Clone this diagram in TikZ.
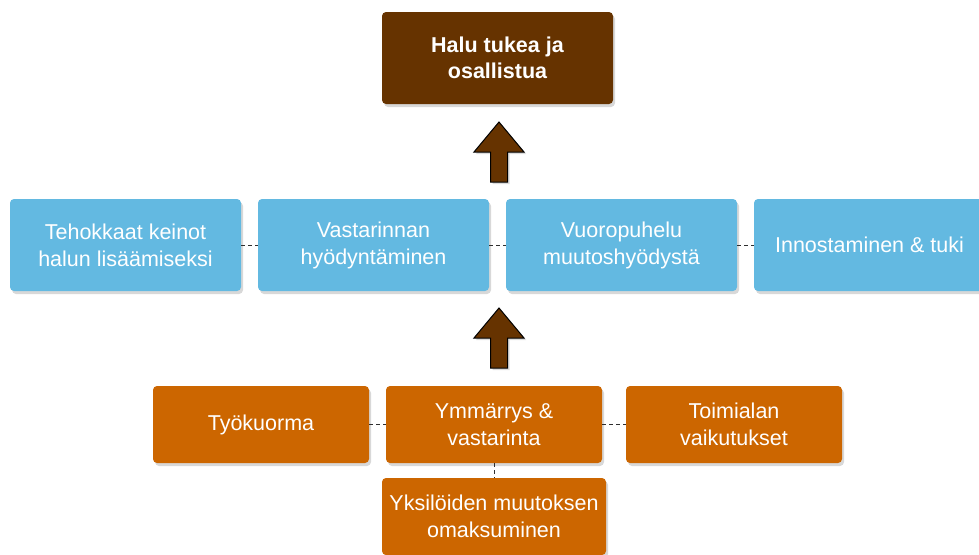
\documentclass[tikz,border=0pt]{standalone}
\usepackage{fontspec}
\setmainfont{Liberation Sans}
\usetikzlibrary{shadows}
\definecolor{boxbrown}{HTML}{663300}
\definecolor{boxblue}{HTML}{63B9E1}
\definecolor{boxorange}{HTML}{CC6600}
\definecolor{linkgray}{HTML}{2E2E2E}
\begin{document}
\begin{tikzpicture}[x=1pt,y=-1pt,
  card/.style={rounded corners=4pt, text=white, align=center, inner sep=0pt,
    font=\fontsize{21.5}{27}\selectfont,
    drop shadow={shadow xshift=2pt,shadow yshift=-3pt,opacity=0.22,fill=black!70}},
  goal/.style={card, fill=boxbrown, minimum width=231pt, minimum height=92pt,
    font=\bfseries\fontsize{21.5}{26.5}\selectfont},
  means/.style={card, fill=boxblue, minimum width=231pt, minimum height=92pt},
  factor/.style={card, fill=boxorange, minimum width=216pt, minimum height=77pt},
  link/.style={draw=linkgray, dash pattern=on 4pt off 3pt, line width=1pt},
  bigarrow/.style={fill=boxbrown, draw=black, line width=1pt, line join=miter,
    drop shadow={shadow xshift=2pt,shadow yshift=-2pt,opacity=0.2,fill=black!70}},
  pics/uparrow/.style={code={
    \path[bigarrow] (-8.5,60) -- (-8.5,30) -- (-25,30) -- (0,0) -- (25,30)
      -- (8.5,30) -- (8.5,60) -- cycle;}}]
\useasboundingbox (0,0) rectangle (979,554);
\clip (0,0) rectangle (979,554);

% goal
\node[goal] (goal) at (497.5,58) {Halu tukea ja\\osallistua};

% ways to increase willingness
\node[means] (b1) at (125.5,245) {Tehokkaat keinot\\halun lisäämiseksi};
\node[means] (b2) at (373.5,245) {Vastarinnan\\hyödyntäminen};
\node[means] (b3) at (621.5,245) {Vuoropuhelu\\muutoshyödystä};
\node[means] (b4) at (869.5,245) {Innostaminen \& tuki};

% influencing factors
\node[factor] (o1) at (261,424.5) {Työkuorma};
\node[factor] (o2) at (494,424.5) {Ymmärrys \&\\vastarinta};
\node[factor] (o3) at (734,424.5) {Toimialan\\vaikutukset};
\node[factor, minimum width=224pt] (o4) at (494,516.5) {Yksilöiden muutoksen\\omaksuminen};

% block arrows
\pic at (499,122) {uparrow};
\pic at (499,308) {uparrow};

% dashed links
\draw[link] (b1.east) -- (b2.west);
\draw[link] (b2.east) -- (b3.west);
\draw[link] (b3.east) -- (b4.west);
\draw[link] (o1.east) -- (o2.west);
\draw[link] (o2.east) -- (o3.west);
\draw[link] (o2.south) -- (o4.north);
\end{tikzpicture}
\end{document}
